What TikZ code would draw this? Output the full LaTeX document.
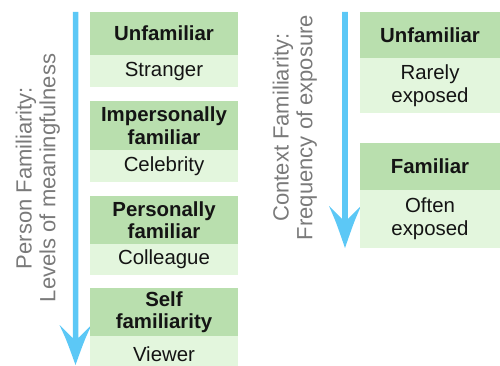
\documentclass[tikz,border=0pt]{standalone}
\usepackage{fontspec}
\setmainfont{Liberation Sans}
\definecolor{hdrgreen}{HTML}{B9DFAE}
\definecolor{bodygreen}{HTML}{E3F6DD}
\definecolor{arrowblue}{HTML}{5CC8F6}
\definecolor{axisgrey}{HTML}{7A7A7A}
\definecolor{boxtext}{HTML}{141414}
\tikzset{
  hdrbox/.style={rectangle, fill=hdrgreen, inner sep=0pt, anchor=north, align=center,
    text=boxtext, font=\bfseries\fontsize{20.4}{22.5}\selectfont},
  bodybox/.style={rectangle, fill=bodygreen, inner sep=0pt, anchor=north, align=center,
    text=boxtext, font=\fontsize{20.4}{23}\selectfont},
  leftcol/.style={minimum width=148pt},
  rightcol/.style={minimum width=140pt},
  axislabel/.style={rotate=90, anchor=north, inner sep=0pt, align=center,
    text=axisgrey, font=\fontsize{22}{23.8}\selectfont}
}
\begin{document}
\begin{tikzpicture}[x=1pt,y=-1pt]
\useasboundingbox (0,0) rectangle (500,366);
% left arrow
\coordinate (la) at (75.5,12);
\coordinate (lt) at (75.5,365);
\fill[arrowblue] (72.75,12) -- (72.75,338) -- (59.5,325) .. controls (66.5,340) .. (lt)
  .. controls (84.5,340) .. (91.5,325) -- (78.25,338) -- (78.25,12) -- cycle;
% right arrow
\coordinate (ra) at (345,12);
\coordinate (rt) at (345,248);
\fill[arrowblue] (342.2,12) -- (342.2,219) -- (329,206) .. controls (336,222) .. (rt)
  .. controls (354,222) .. (361,206) -- (347.8,219) -- (347.8,12) -- cycle;
% axis labels
\node[axislabel] (lablL) at (15.5,178) {Person Familiarity:\\Levels of meaningfulness};
\node[axislabel] (lablR) at (272.5,127.5) {Context Familiarity:\\Frequency of exposure};
% left boxes
\node[hdrbox, leftcol, minimum height=43pt] (h1) at (164,12) {Unfamiliar};
\node[bodybox, leftcol, minimum height=32pt] (b1) at (164,55) {Stranger};
\node[hdrbox, leftcol, minimum height=49pt] (h2) at (164,101) {Impersonally\\familiar};
\node[bodybox, leftcol, minimum height=32pt] (b2) at (164,150) {Celebrity};
\node[hdrbox, leftcol, minimum height=48pt] (h3) at (164,196) {Personally\\familiar};
\node[bodybox, leftcol, minimum height=31pt] (b3) at (164,244) {Colleague};
\node[hdrbox, leftcol, minimum height=48pt] (h4) at (164,288) {Self\\familiarity};
\node[bodybox, leftcol, minimum height=36pt] (b4) at (164,336) {Viewer};
% right boxes
\node[hdrbox, rightcol, minimum height=46pt] (rh1) at (430,12) {Unfamiliar};
\node[bodybox, rightcol, minimum height=55pt] (rb1) at (430,58) {Rarely\\exposed};
\node[hdrbox, rightcol, minimum height=47pt] (rh2) at (430,143) {Familiar};
\node[bodybox, rightcol, minimum height=58pt] (rb2) at (430,190) {Often\\exposed};
\end{tikzpicture}
\end{document}
